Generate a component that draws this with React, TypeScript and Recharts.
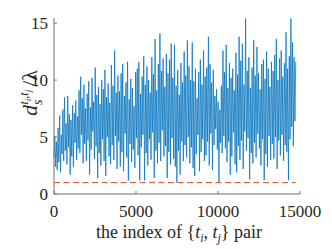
import React from "react"
import { LineChart, Line, XAxis, YAxis, ReferenceLine } from "recharts"

// d_s / lambda for each {t_i, t_j} pair (ten values per ~500 pairs)
const ratio = [
  3.2, 5.1, 2.4, 4.6, 2.1, 5.8, 2.8, 6.9, 1.9, 5.2,
  3.5, 7.4, 2.9, 8.5, 3.8, 6.2, 2.6, 8.6, 4.1, 7.0,
  1.7, 6.5, 3.3, 7.8, 2.4, 7.1, 4.5, 8.2, 3.0, 6.8,
  4.0, 9.1, 3.6, 10.3, 5.2, 8.4, 2.7, 9.6, 4.4, 7.5,
  2.9, 8.8, 4.7, 9.9, 1.7, 7.6, 3.9, 10.2, 5.5, 8.1,
  3.1, 11.1, 4.2, 8.7, 1.4, 9.4, 3.6, 7.9, 2.5, 10.0,
  4.8, 9.2, 2.9, 10.9, 1.6, 8.5, 5.0, 9.7, 3.3, 8.0,
  2.6, 11.3, 4.3, 9.5, 3.0, 12.6, 5.1, 8.9, 2.2, 10.4,
  4.6, 9.0, 2.4, 10.6, 3.7, 11.4, 2.0, 8.6, 5.3, 9.8,
  3.2, 11.6, 1.2, 8.3, 4.4, 10.1, 2.8, 9.3, 3.9, 7.7,
  2.3, 10.7, 4.9, 11.0, 3.4, 11.6, 1.2, 8.8, 4.1, 10.3,
  5.2, 12.1, 1.2, 9.6, 3.6, 11.2, 2.5, 10.0, 4.8, 8.9,
  3.0, 12.0, 5.4, 10.5, 1.4, 13.6, 3.8, 9.1, 2.7, 11.4,
  4.5, 14.1, 2.9, 10.8, 5.6, 11.9, 3.3, 9.4, 4.2, 12.3,
  1.4, 10.6, 3.7, 11.8, 2.6, 13.2, 4.9, 10.2, 3.1, 13.1,
  2.4, 9.5, 1.0, 10.9, 3.8, 8.7, 1.7, 11.5, 4.6, 9.8,
  2.9, 12.5, 4.3, 10.4, 3.2, 13.5, 5.0, 11.2, 2.7, 10.0,
  4.1, 13.3, 2.3, 9.9, 1.6, 11.0, 3.5, 8.4, 5.2, 10.7,
  2.0, 11.8, 3.7, 9.6, 4.8, 12.6, 2.9, 10.3, 3.4, 11.1,
  4.6, 13.8, 2.5, 11.4, 5.3, 9.8, 2.1, 10.9, 4.3, 8.6,
  5.7, 9.2, 3.9, 8.1, 1.0, 7.4, 4.5, 9.5, 3.6, 12.6,
  5.1, 10.7, 4.0, 13.1, 2.8, 9.3, 4.6, 11.5, 1.7, 10.2,
  3.3, 11.0, 5.4, 9.1, 2.6, 12.4, 1.9, 10.5, 4.2, 13.8,
  3.0, 11.7, 4.7, 13.2, 2.2, 9.6, 5.5, 15.4, 3.8, 10.8,
  4.9, 12.0, 1.3, 9.3, 3.6, 11.1, 2.7, 13.5, 4.5, 10.4,
  3.2, 12.9, 5.3, 10.6, 4.0, 9.2, 2.5, 11.4, 4.8, 11.8,
  1.2, 10.1, 3.5, 12.5, 2.4, 11.0, 5.1, 9.4, 3.0, 11.6,
  4.4, 10.8, 3.1, 12.2, 5.0, 13.6, 2.2, 10.0, 4.7, 11.9,
  3.4, 12.6, 5.2, 10.3, 2.9, 11.5, 4.3, 14.2, 3.7, 11.0,
  1.2, 12.1, 4.8, 15.4, 5.9, 13.3, 4.2, 12.0, 6.4, 11.6,
]

const lastIndex = 14740
const threshold = 1
const xTicks = [0, 5000, 10000, 15000]
const yTicks = [0, 5, 10, 15]

const data = ratio.map((v, i) => ({
  idx: Math.round((i * lastIndex) / (ratio.length - 1)),
  r: v,
}))

const FONT = "Liberation Serif, serif"
const INK = "#262626"

const BottomTick = (props: any) => {
  const { x, y, payload } = props
  return (
    <g>
      <line x1={x} y1={y} x2={x} y2={y - 3} stroke="#777" />
      <text x={x} y={y + 23} textAnchor="middle" fontFamily={FONT} fontSize={17} fill={INK}>
        {payload.value}
      </text>
    </g>
  )
}

const LeftTick = (props: any) => {
  const { x, y, payload } = props
  return (
    <g>
      <line x1={x} y1={y} x2={x + 3} y2={y} stroke="#777" />
      <text x={x - 6} y={y + 6} textAnchor="end" fontFamily={FONT} fontSize={17} fill={INK}>
        {payload.value}
      </text>
    </g>
  )
}

const TopTick = (props: any) => {
  const { x, y } = props
  return <line x1={x} y1={y} x2={x} y2={y + 3} stroke="#777" />
}

const RightTick = (props: any) => {
  const { x, y } = props
  return <line x1={x} y1={y} x2={x - 3} y2={y} stroke="#777" />
}

export default function App() {
  return (
    <div style={{ position: "absolute", left: 0, top: 0, width: 332, height: 249, background: "#fff" }}>
      <LineChart width={332} height={249} data={data} margin={{ top: 18, right: 32, left: 0, bottom: 0 }}>
        <XAxis
          dataKey="idx"
          type="number"
          domain={[0, 15000]}
          ticks={xTicks}
          height={55}
          tickSize={0}
          tickMargin={0}
          tickLine={false}
          axisLine={{ stroke: "#b5b5b5", strokeWidth: 2 }}
          tick={<BottomTick />}
        />
        <XAxis
          xAxisId="top"
          orientation="top"
          dataKey="idx"
          type="number"
          domain={[0, 15000]}
          ticks={xTicks}
          height={0}
          tickSize={0}
          tickMargin={0}
          tickLine={false}
          axisLine={{ stroke: "#8a8a8a" }}
          tick={<TopTick />}
        />
        <YAxis
          type="number"
          domain={[0, 15.45]}
          ticks={yTicks}
          width={54}
          tickSize={0}
          tickMargin={0}
          tickLine={false}
          allowDataOverflow
          axisLine={{ stroke: "#6f6f6f" }}
          tick={<LeftTick />}
        />
        <YAxis
          yAxisId="right"
          orientation="right"
          type="number"
          domain={[0, 15.45]}
          ticks={yTicks}
          width={0}
          tickSize={0}
          tickMargin={0}
          tickLine={false}
          axisLine={{ stroke: "#8a8a8a" }}
          tick={<RightTick />}
        />
        <Line
          type="linear"
          dataKey="r"
          stroke="#0072BD"
          strokeWidth={0.75}
          dot={false}
          isAnimationActive={false}
        />
        <ReferenceLine
          segment={[
            { x: 0, y: threshold },
            { x: lastIndex, y: threshold },
          ]}
          stroke="#D95319"
          strokeWidth={1}
          strokeDasharray="6 3.5"
        />
      </LineChart>
      <svg width={332} height={249} style={{ position: "absolute", left: 0, top: 0, pointerEvents: "none" }}>
        <text x={179} y={238} textAnchor="middle" fontFamily={FONT} fontSize={18} fill={INK}>
          the index of {"{"}
          <tspan fontStyle="italic">t</tspan>
          <tspan fontSize={12} dy={4} fontStyle="italic">i</tspan>
          <tspan dy={-4}>, </tspan>
          <tspan fontStyle="italic">t</tspan>
          <tspan fontSize={12} dy={4} fontStyle="italic">j</tspan>
          <tspan dy={-4}>{"}"} pair</tspan>
        </text>
        <text
          x={0}
          y={0}
          transform="translate(37,93) rotate(-90)"
          textAnchor="middle"
          fontFamily={FONT}
          fontSize={22}
          fill={INK}
        >
          <tspan fontStyle="italic">d</tspan>
          <tspan fontSize={14} fontStyle="italic" dy={5}>s</tspan>
          <tspan fontSize={12} fontStyle="italic" dx={-5} dy={-14}>t</tspan>
          <tspan fontSize={9} fontStyle="italic" dy={3}>i</tspan>
          <tspan fontSize={12} dy={-3}>,</tspan>
          <tspan fontSize={12} fontStyle="italic">t</tspan>
          <tspan fontSize={9} fontStyle="italic" dy={3}>j</tspan>
          <tspan dx={3} dy={6}>/λ</tspan>
        </text>
      </svg>
    </div>
  )
}
